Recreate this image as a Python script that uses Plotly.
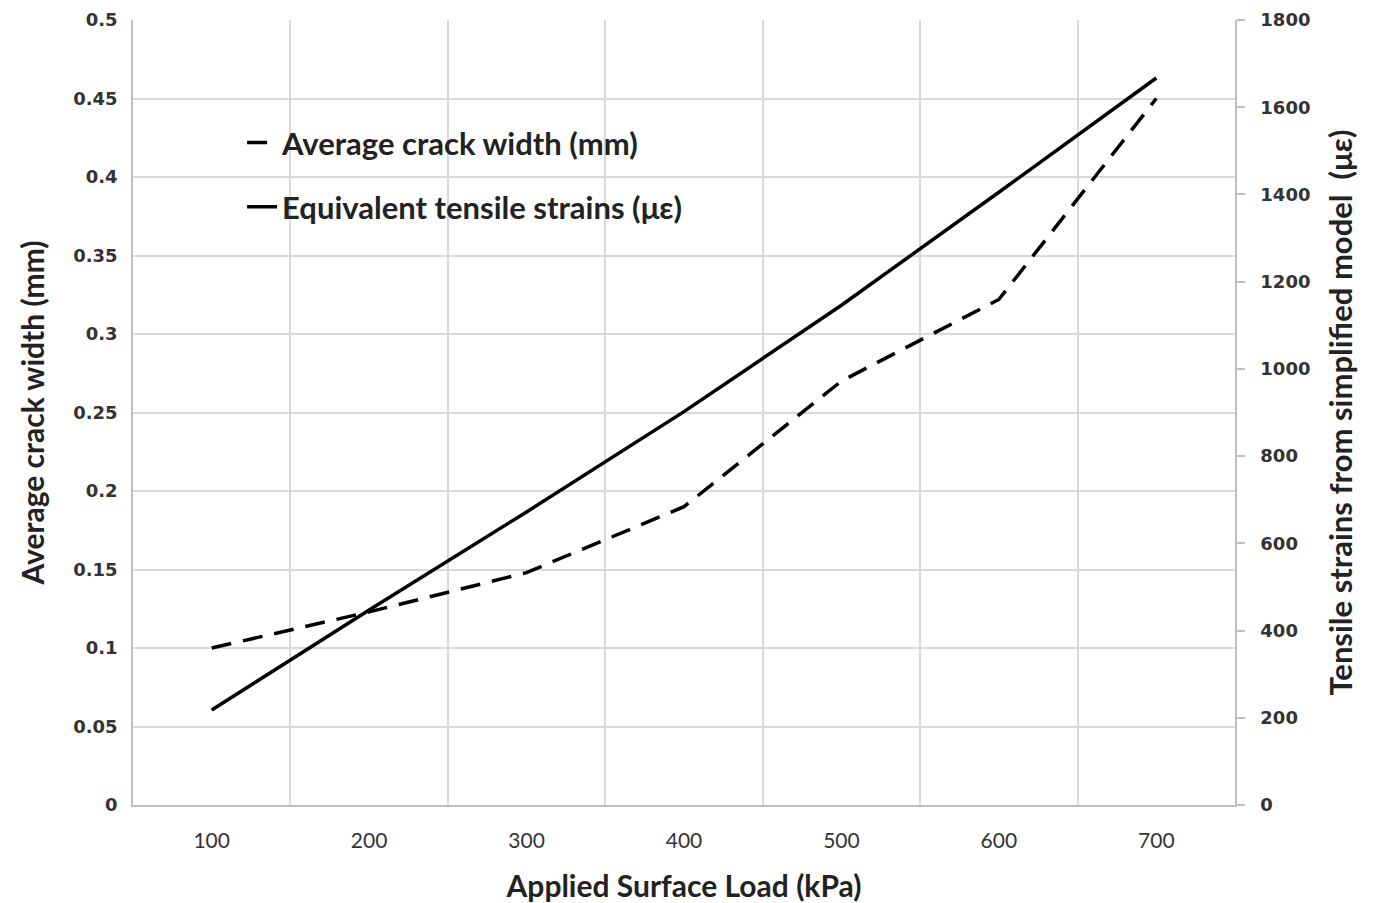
import plotly.graph_objects as go

loads = [100, 200, 300, 400, 500, 600, 700]
crack_width = [0.10, 0.123, 0.148, 0.19, 0.27, 0.322, 0.45]
tensile_strain = [218, 447, 672, 902, 1146, 1405, 1667]
x_tick_labels = ["100", "200", "300", "400", "500", "600", "700"]
grid_bounds = [150, 250, 350, 450, 550, 650, 750]

GRID = "#d9d9d9"
AXIS = "#bfbfbf"

fig = go.Figure()
fig.add_trace(go.Scatter(
    x=loads, y=crack_width, mode="lines", name="Average crack width (mm)",
    line=dict(color="black", width=3.5, dash="20px,12px"),
    legendgroup="a", yaxis="y",
))
fig.add_trace(go.Scatter(
    x=loads, y=tensile_strain, mode="lines", name="Equivalent tensile strains (με)",
    line=dict(color="black", width=3.5),
    legendgroup="b", yaxis="y2",
))

tick_font = dict(family="DejaVu Sans", size=18, color="#333333", weight="bold")

fig.update_layout(
    width=1365, height=895,
    margin=dict(l=125, r=138, t=12, b=98),
    paper_bgcolor="white", plot_bgcolor="white",
    showlegend=True,
    legend=dict(
        x=0.099, y=0.878, xanchor="left", yanchor="top",
        font=dict(family="Lato", size=31, color="#222222", weight="bold"),
        bgcolor="rgba(0,0,0,0)", tracegroupgap=21, traceorder="grouped",
    ),
    xaxis=dict(
        range=[50, 750], tickvals=loads, ticktext=x_tick_labels,
        showgrid=False, zeroline=False, automargin=False,
        showline=True, linecolor=AXIS, linewidth=1.5,
        ticks="", ticklabelstandoff=16,
        tickfont=dict(family="Lato", size=21, color="#333333"),
        minor=dict(tickvals=grid_bounds, showgrid=True, gridcolor=GRID, gridwidth=1.5, ticks=""),
        title=dict(text="Applied Surface Load (kPa)", font=dict(family="Lato", size=30, color="#222222", weight="bold"), standoff=28),
    ),
    yaxis=dict(
        range=[0, 0.5], dtick=0.05, tick0=0,
        showgrid=True, gridcolor=GRID, gridwidth=1.5, zeroline=False, automargin=False,
        showline=True, linecolor=AXIS, linewidth=1.5,
        ticks="", ticklabelstandoff=10,
        tickfont=tick_font,
        title=dict(text="Average crack width (mm)", font=dict(family="Lato", size=30, color="#222222", weight="bold"), standoff=20),
    ),
    yaxis2=dict(
        range=[0, 1800], dtick=200, tick0=0, overlaying="y", side="right",
        showgrid=False, zeroline=False, automargin=False,
        showline=True, linecolor=AXIS, linewidth=1.5,
        ticks="outside", ticklen=8, tickcolor=AXIS, tickwidth=1.5,
        ticklabelstandoff=12,
        tickfont=tick_font,
        title=dict(text="Tensile strains from simplified model  (με)", font=dict(family="Lato", size=31, color="#222222", weight="bold"), standoff=21),
    ),
)

fig.write_html("out.html")
